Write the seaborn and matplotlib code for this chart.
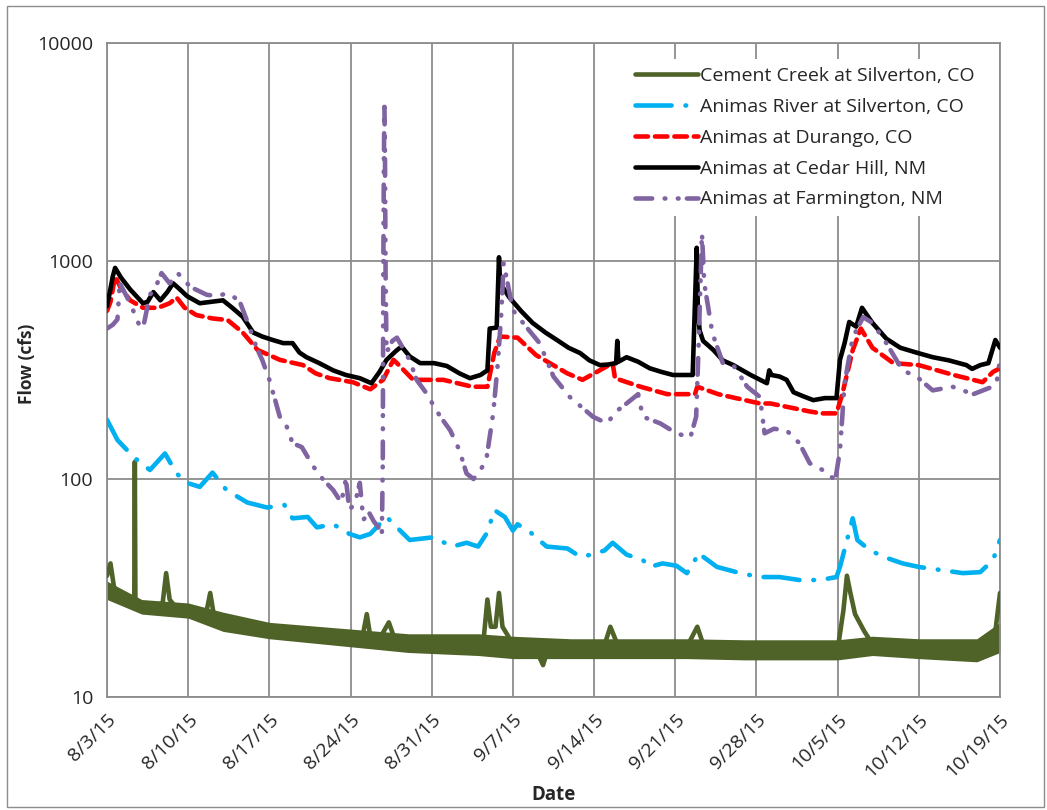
import numpy as np
import pandas as pd
import matplotlib
matplotlib.use("Agg")
import matplotlib.pyplot as plt
import matplotlib.ticker as mticker
from matplotlib.patches import Rectangle
import seaborn as sns

# ---------------- data (day offset from 8/3/15, flow in cfs) ----------------
cement_days = [0, 0.3, 0.6, 1.0, 1.5, 2.0, 2.35, 2.4, 2.45, 3.0, 4.0, 4.8, 5.1, 5.4, 6.0, 7.0,
               8.0, 8.6, 8.9, 9.2, 10.0, 11.0, 12.0, 13.0, 14.0, 15.0, 16.0, 17.0, 18.0,
               19.0, 20.0, 21.0, 22.0, 22.4, 22.7, 23.5, 24.3, 24.8, 26.0, 27.0, 28.0,
               29.0, 30.0, 31.0, 32.0, 32.5, 32.8, 33.1, 33.5, 33.8, 34.1, 34.6, 35.0,
               36.0, 37.0, 37.6, 38.0, 39.0, 40.0, 41.0, 42.0, 43.0, 43.4, 44.0, 45.0,
               47.0, 49.0, 50.0, 50.9, 51.4, 52.0, 53.0, 55.0, 57.0, 59.0, 61.0, 63.0,
               63.5, 63.8, 64.1, 64.5, 65.3, 66.0, 67.0, 69.0, 71.0, 73.0, 75.0, 76.0,
               76.6, 77.0]
cement_flow = [36, 41, 32, 30, 28, 27, 26.5, 120, 27, 26.5, 26, 27, 37, 28, 25.5, 25,
               24.5, 25, 30, 24, 22, 22, 21.5, 21, 20.5, 20, 20, 19.5, 19.5,
               19, 19, 19, 18.5, 24, 19, 18.5, 22, 18.5, 18, 18, 17.5,
               17.5, 17.5, 17.5, 17.5, 19, 28, 21, 21, 30, 21, 19, 17,
               17, 16.5, 14, 16.5, 16.5, 17, 17, 17, 18, 21, 17.5, 17,
               17, 17, 17, 21, 17.5, 17, 16.5, 16.5, 16.5, 16.5, 16.5, 16.5,
               25, 36, 30, 24, 20, 17.5, 17, 17, 17, 17, 17, 18,
               20, 30]
cement_band_days = [0, 3, 7, 10, 14, 21, 26, 32, 35, 40, 45, 50, 55, 60, 63, 66, 70, 75, 77]
cement_band_lo = [28, 24, 23, 20, 18.5, 17, 16, 15.5, 15, 15, 15, 15, 14.8, 14.8, 14.8, 15.5, 15, 14.5, 16]
cement_band_hi = [34, 28, 27, 24.5, 22, 20.5, 19.5, 19.5, 19, 18.5, 18.5, 18.5, 18.3, 18.3, 18.3, 19, 18.5, 18.5, 22]

silverton_days = [0, 0.9, 2.3, 3.7, 5.0, 6.0, 6.9, 8.0, 9.1, 10.3, 12.1, 13.8, 15.3, 16.0,
                  17.3, 18.1, 19.5, 20.9, 21.8, 22.7, 24.1, 25.0, 26.1, 28.1, 29.8, 31.0,
                  32.0, 32.8, 33.4, 34.3, 35.0, 35.4, 36.5, 37.9, 39.7, 40.8, 41.8, 42.9,
                  43.6, 44.8, 46.2, 46.8, 47.9, 49.1, 50.0, 51.1, 51.4, 52.6, 54.6, 56.3,
                  58.0, 59.7, 61.5, 62.9, 63.2, 64.3, 64.7, 65.8, 67.2, 68.6, 70.0, 71.8,
                  73.8, 75.3, 76.4, 77.0]
silverton_flow = [187, 151, 126, 110, 131, 106, 96, 92, 107, 89, 78, 74, 76, 66,
                  67, 60, 62, 56, 54, 56, 67, 60, 52.5, 54, 49, 51,
                  49, 57, 72, 67, 58, 62, 57, 49, 48, 44, 45, 47,
                  51, 45, 42.5, 39.5, 41, 40, 37, 46, 44, 39.5, 37, 35.5,
                  35.5, 34.4, 34.4, 35.5, 39.5, 66, 52.5, 47, 43.5, 41, 39.5, 38.3,
                  37, 37.4, 42.5, 52.5]

durango_days = [0, 0.3, 0.7, 1.2, 2.0, 3.1, 4.4, 5.4, 6.0, 6.7, 7.7, 9.1, 10.4, 11.7, 13.0,
                14.0, 14.9, 16.9, 18.0, 19.2, 21.2, 22.7, 23.8, 24.7, 25.0, 26.4, 29.0,
                31.5, 32.8, 33.4, 33.9, 35.4, 37.0, 39.7, 41.0, 43.6, 43.8, 46.0, 48.3,
                50.7, 50.9, 52.7, 56.3, 57.2, 60.6, 61.6, 62.9, 63.4, 64.3, 65.0, 66.0,
                67.8, 70.0, 73.0, 75.5, 76.4, 77.0]
durango_flow = [590, 650, 850, 750, 660, 610, 610, 640, 680, 610, 565, 545, 536, 470, 390,
                370, 352, 333, 305, 290, 278, 258, 285, 352, 340, 285, 285,
                265, 265, 380, 450, 445, 370, 305, 285, 340, 290, 265, 245,
                245, 265, 245, 222, 222, 204, 200, 200, 245, 390, 490, 400,
                340, 333, 300, 278, 310, 322]

cedar_days = [0, 0.2, 0.5, 0.7, 1.2, 2.0, 3.1, 3.5, 4.0, 4.6, 5.2, 5.7, 6.3, 6.9, 8.0, 9.0,
              10.0, 10.8, 11.7, 12.6, 13.4, 14.3, 15.2, 16.0, 16.6, 17.2, 18.3, 19.5, 20.6,
              21.8, 22.8, 23.5, 24.1, 25.0, 25.4, 26.1, 27.0, 28.2, 29.3, 30.4, 31.3, 32.2,
              32.8, 33.0, 33.6, 33.8, 33.9, 34.7, 35.7, 36.7, 37.8, 38.8, 39.8, 40.8, 41.6,
              42.5, 43.2, 43.9, 44.0, 44.1, 44.8, 45.8, 46.8, 47.8, 48.8, 49.6, 50.5, 50.85,
              50.95, 51.1, 51.4, 52.3, 53.1, 54.0, 55.5, 56.9, 57.1, 57.3, 58.0, 58.6, 59.2,
              60.0, 60.9, 61.9, 62.9, 63.2, 63.6, 64.0, 64.6, 65.1, 66.0, 67.2, 68.4, 69.8,
              71.2, 72.6, 74.1, 74.6, 75.3, 76.0, 76.6, 77.0]
cedar_flow = [620, 700, 850, 930, 840, 740, 640, 650, 720, 660, 720, 790, 740, 690, 640, 650,
              660, 610, 555, 470, 450, 434, 420, 420, 380, 362, 340, 315, 300,
              290, 275, 310, 352, 390, 405, 365, 340, 340, 330, 305, 290, 300,
              315, 490, 495, 1040, 790, 680, 590, 520, 470, 434, 400, 378, 350,
              333, 335, 340, 430, 345, 362, 345, 322, 310, 300, 300, 300, 1150,
              600, 480, 430, 390, 350, 333, 300, 275, 315, 300, 295, 285, 250,
              240, 230, 235, 235, 352, 420, 525, 500, 610, 520, 440, 400, 380,
              362, 350, 333, 320, 333, 340, 434, 400]

farm_days = [0, 0.5, 0.9, 1.1, 1.5, 2.0, 2.8, 3.2, 3.7, 4.2, 4.7, 5.4, 6.1, 6.6, 7.2, 8.6,
             9.5, 10.3, 11.0, 11.5, 12.3, 12.9, 13.4, 14.0, 14.5, 14.9, 15.4, 16.0, 16.8,
             17.8, 18.6, 19.5, 20.2, 20.6, 20.9, 21.4, 21.8, 22.1, 22.6, 23.0, 23.4, 23.7,
             23.78, 23.82, 23.87, 23.92, 23.97, 24.02, 24.1, 24.6, 25.0, 25.5, 26.1, 26.7,
             27.6, 28.4, 29.0, 29.6, 30.4, 31.0, 31.6, 32.2, 32.7, 33.3, 33.7, 34.0, 34.2,
             35.0, 36.2, 37.3, 38.5, 39.9, 41.9, 43.1, 44.0, 44.8, 45.8, 46.2, 47.7, 49.1,
             50.3, 50.8, 51.0, 51.3, 51.5, 52.2, 53.1, 54.0, 55.2, 56.3, 56.7, 57.5, 58.6,
             59.7, 60.6, 61.7, 62.8, 63.2, 63.6, 64.3, 65.2, 66.0, 67.2, 68.6, 69.8, 71.2,
             72.9, 74.7, 76.1, 76.7, 77.0]
farm_flow = [490, 510, 540, 790, 720, 640, 505, 520, 700, 760, 880, 790, 880, 820, 760, 700,
             690, 710, 680, 640, 495, 400, 350, 285, 230, 193, 180, 146, 140,
             114, 100, 89, 78, 100, 72, 78, 96, 65, 70, 64, 60, 55,
             120, 800, 2600, 5300, 3000, 900, 380, 430, 445, 400, 350, 285,
             245, 206, 185, 167, 135, 106, 100, 110, 122, 200, 340, 575, 980,
             595, 495, 420, 295, 238, 193, 180, 206, 222, 245, 193, 180, 162,
             155, 193, 390, 1340, 790, 467, 340, 333, 265, 238, 162, 170, 167,
             146, 118, 110, 99, 135, 275, 445, 553, 520, 420, 315, 295, 255,
             265, 245, 262, 275, 352]

series_names = ["Cement Creek at Silverton, CO", "Animas River at Silverton, CO",
                "Animas at Durango, CO", "Animas at Cedar Hill, NM",
                "Animas at Farmington, NM"]
tick_days = [0, 7, 14, 21, 28, 35, 42, 49, 56, 63, 70, 77]
tick_labels = ["8/3/15", "8/10/15", "8/17/15", "8/24/15", "8/31/15", "9/7/15",
               "9/14/15", "9/21/15", "9/28/15", "10/5/15", "10/12/15", "10/19/15"]
y_ticks = [10, 100, 1000, 10000]
y_labels = ["10", "100", "1000", "10000"]

# ---------------- style ----------------
sns.set_style("white")
plt.rcParams['font.family'] = ['Open Sans', 'DejaVu Sans']
plt.rcParams['lines.scale_dashes'] = False

OLIVE = "#4F6228"
CYAN = "#00B0F0"
RED = "#FF0000"
PURPLE = "#8064A2"
GRID = "#8C8C8C"

base = pd.Timestamp("2015-08-03")


def to_dates(days):
    return base + pd.to_timedelta(np.asarray(days, dtype=float), unit="D")


fig = plt.figure(figsize=(10.47, 8.10), dpi=100)
ax = fig.add_axes([107 / 1047, 1 - 697 / 810, 893 / 1047, 654 / 810])

LW = 3.3
common = dict(ax=ax, estimator=None, sort=False, linewidth=LW,
              dash_capstyle="round", solid_capstyle="round")

ax.fill_between(to_dates(cement_band_days), cement_band_lo, cement_band_hi,
                color=OLIVE, linewidth=0, zorder=2)
sns.lineplot(x=to_dates(cement_days), y=cement_flow, color=OLIVE,
             label=series_names[0], zorder=3, **common)
sns.lineplot(x=to_dates(silverton_days), y=silverton_flow, color=CYAN,
             linestyle=(0, (26, 10, 0.5, 10)), label=series_names[1], zorder=3, **common)
sns.lineplot(x=to_dates(durango_days), y=durango_flow, color=RED,
             linestyle=(0, (9, 5)), label=series_names[2], zorder=3, **common)
sns.lineplot(x=to_dates(cedar_days), y=cedar_flow, color="black",
             label=series_names[3], zorder=3, **common)
sns.lineplot(x=to_dates(farm_days), y=farm_flow, color=PURPLE,
             linestyle=(0, (12, 9, 0.5, 9, 0.5, 6)), label=series_names[4], zorder=3, **common)

# ---------------- axes ----------------
ax.set_yscale("log")
ax.set_ylim(10, 10000)
ax.yaxis.set_major_locator(mticker.FixedLocator(y_ticks))
ax.yaxis.set_major_formatter(mticker.FixedFormatter(y_labels))
ax.yaxis.set_minor_locator(mticker.LogLocator(base=10, subs=np.arange(2, 10)))
ax.yaxis.set_minor_formatter(mticker.NullFormatter())

ax.set_xlim(to_dates([0])[0], to_dates([77])[0])
ax.set_xticks(to_dates(tick_days))
ax.set_xticklabels(tick_labels, rotation=45, ha="right", rotation_mode="anchor")

ax.tick_params(axis="y", which="major", direction="out", length=7, width=1.2,
               color=GRID, labelsize=14, pad=3)
ax.tick_params(axis="y", which="minor", direction="in", length=5, width=1.0, color=GRID)
ax.tick_params(axis="x", which="major", direction="out", length=6, width=1.2,
               color=GRID, labelsize=14, pad=4)

ax.grid(True, which="major", axis="both", color=GRID, linewidth=1.3)
ax.set_axisbelow(True)
for sp in ax.spines.values():
    sp.set_color(GRID)
    sp.set_linewidth(1.3)

ax.set_ylabel("Flow (cfs)", fontsize=12.5, fontweight="bold")
ax.set_xlabel("Date", fontsize=13.5, fontweight="bold")
ax.yaxis.set_label_coords(-0.08, 0.51)
ax.xaxis.set_label_coords(0.5, -0.135)

leg = ax.legend(loc="upper left", bbox_to_anchor=(0.572, 0.99), fontsize=14,
                frameon=True, facecolor="white", edgecolor="none", framealpha=1,
                handlelength=3.2, handletextpad=0.15, labelspacing=0.66,
                borderpad=0.4, fancybox=False)

fig.patches.append(Rectangle((7 / 1047, 3 / 810), 1037 / 1047, 801 / 810,
                             transform=fig.transFigure, fill=False,
                             edgecolor="#8C8C8C", linewidth=1.0))

fig.savefig("out.png", dpi=100, facecolor="white")
